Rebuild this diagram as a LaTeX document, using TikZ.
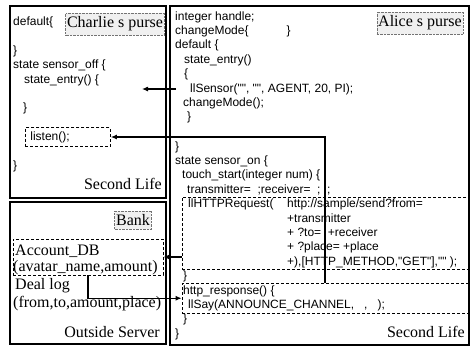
\documentclass[tikz,border=0pt]{standalone}
\usepackage{fontspec}
\setmainfont{Liberation Serif}
\newfontfamily\codefont{Liberation Sans}
\usetikzlibrary{arrows.meta}

\tikzset{
  boxframe/.style={draw, line width=1.1pt},
  codeline/.style={font=\codefont\fontsize{12}{14}\selectfont, anchor=west, inner sep=0pt, text height=8.6pt, text depth=2.4pt},
  tagtext/.style={font=\fontsize{16}{18}\selectfont, inner sep=0pt},
  purse/.style={tagtext, draw=black!55, densely dotted, fill=black!6, inner xsep=1.5pt, inner ysep=3.5pt},
  fragbox/.style={draw, line width=0.8pt, dash pattern=on 3pt off 2pt},
  flow/.style={line width=1.1pt, -{Latex[length=6pt,width=5pt]}},
}

\begin{document}
\begin{tikzpicture}[x=1pt, y=-1pt]
    \useasboundingbox (0,0) rectangle (471,349);

    % --- Cornici ---
    \draw[boxframe] (10,6) rectangle (166,198);
    \draw[boxframe] (10,202) rectangle (166,344);
    \draw[boxframe] (170,6) rectangle (469,345);

    % --- Second Life (Charlie) ---
    \node[codeline] (c1) at (13,22) {default\{};
    \node[purse] (charlie) at (115,24) {Charlie s purse};
    \node[codeline] (c2) at (13,51) {\}};
    \node[codeline] (c3) at (13,65) {state sensor\_off \{};
    \node[codeline] (c4) at (24,80) {state\_entry() \{};
    \node[codeline] (c5) at (23,108) {\}};
    \node[codeline, fragbox, minimum height=19pt, text width=75pt, inner xsep=5pt] (listen) at (25,137) {listen();};
    \node[codeline] (c6) at (13,166) {\}};
    \node[tagtext, anchor=east] (sl1) at (162,184) {Second Life};

    % --- Outside Server ---
    \node[purse] (bank) at (133,220) {Bank};
    \node[fragbox, minimum width=150pt, minimum height=36pt] (acc) at (88,257) {};
    \node[tagtext, anchor=west] (db1) at (15,251) {Account\_DB};
    \node[tagtext, anchor=west] (db2) at (13,268) {(avatar\_name,amount)};
    \node[tagtext, anchor=west] (log1) at (15,286) {Deal log};
    \node[tagtext, anchor=west] (log2) at (13,304) {(from,to,amount,place)};
    \node[tagtext, anchor=east] (srv) at (160,332) {Outside Server};

    % --- Second Life (Alice) ---
    \node[purse] (alice) at (420,23) {Alice s purse};
    \node[codeline] (a1) at (175,17) {integer handle;};
    \node[codeline] (a2) at (175,31.4) {changeMode\{\hspace{38pt}\}};
    \node[codeline] (a3) at (175,45.8) {default \{};
    \node[codeline] (a4) at (184,60.2) {state\_entry()};
    \node[codeline] (a5) at (184,74.6) {\{};
    \node[codeline] (sensor) at (190,89) {llSensor("", "", AGENT, 20, PI);};
    \node[codeline] (a7) at (183,103.4) {changeMode();};
    \node[codeline] (a8) at (187,117.8) {\}};
    \node[codeline] (a9) at (175,147) {\}};
    \node[codeline] (a10) at (175,161.4) {state sensor\_on \{};
    \node[codeline] (a11) at (182,175.8) {touch\_start(integer num) \{};
    \node[codeline] (a12) at (187,190.2) {transmitter=\ \ ;receiver=\ \ ;\ \ ;};
    % richiesta HTTP
    \node[fragbox, minimum width=286pt, minimum height=72pt] (req) at (325,233) {};
    \node[codeline] (a13) at (188,204.6) {llHTTPRequest(};
    \node[codeline] (url) at (287,204.6) {http://sample/send?from=};
    \node[codeline] (a14) at (287,219) {+transmitter};
    \node[codeline] (a15) at (287,233.4) {+ ?to=\ \ +receiver};
    \node[codeline] (a16) at (287,247.8) {+ ?place=\ +place};
    \node[codeline] (a17) at (287,262.2) {+),[HTTP\_METHOD,"GET"],""\ );};
    \node[codeline] (a18) at (183,276.6) {\}};
    % risposta
    \node[fragbox, minimum width=286pt, minimum height=29.5pt] (resp) at (325,298.25) {};
    \node[codeline] (a19) at (183,291) {http\_response() \{};
    \node[codeline] (a20) at (188,305.4) {llSay(ANNOUNCE\_CHANNEL,\ \ \ ,\ \ \ );};
    \node[codeline] (a21) at (183,319.8) {\}};
    \node[codeline] (a22) at (175,334.2) {\}};
    \node[tagtext, anchor=east] (sl2) at (465,332) {Second Life};

    % --- Frecce ---
    \coordinate (sensorhit) at (142,89);
    \draw[flow, shorten <=14pt] (sensor.west) -- (sensorhit);
    \draw[flow] (resp.north) |- (listen.east);
    \draw[flow] (req.west |- acc.east) -- (acc.east);
    \draw[flow] (acc.south) |- (resp.west);

\end{tikzpicture}
\end{document}
